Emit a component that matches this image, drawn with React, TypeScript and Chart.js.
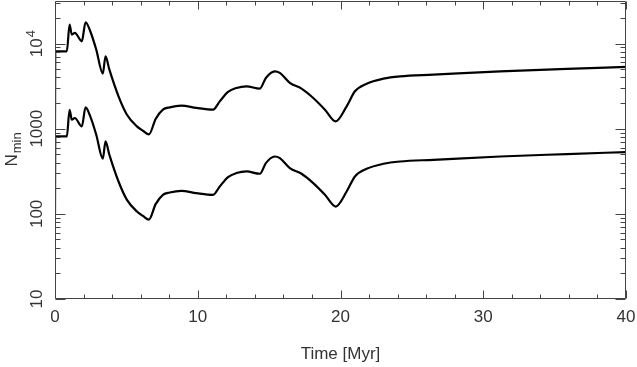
import React, { useEffect, useRef } from "react";
import { Chart, registerables } from "chart.js";

Chart.register(...registerables);

// Time in Myr
const times = [0, 0.02, 0.83, 1.02, 1.18, 1.39, 1.88, 2.14, 2.47, 2.89, 3.35, 3.54, 3.8, 4.45, 5.04, 5.74, 6.16, 6.58, 7.05, 7.56, 8.03, 8.85, 9.9, 11.07, 11.54, 12.12, 12.71, 13.41, 14.35, 14.77, 15.4, 15.75, 16.45, 17.27, 18.09, 18.91, 19.66, 20.43, 21.01, 21.83, 23.0, 24.17, 26.5, 31.18, 35.86, 40];

const upperNmin = [1000, 8110, 8110, 16700, 12750, 13360, 10640, 17800, 13960, 8500, 4440, 7100, 5000, 2400, 1460, 1064, 946, 857, 1300, 1675, 1782, 1866, 1754, 1675, 2094, 2704, 3013, 3150, 2957, 3946, 4720, 4518, 3452, 2957, 2296, 1675, 1219, 1830, 2750, 3381, 3873, 4121, 4315, 4720, 5035, 5320];

const lowerNmin = [100, 811, 811, 1670, 1275, 1336, 1064, 1780, 1396, 850, 444, 710, 500, 240, 146, 106.4, 94.6, 85.7, 130, 167.5, 178.2, 186.6, 175.4, 167.5, 209.4, 270.4, 301.3, 315, 295.7, 394.6, 472, 451.8, 345.2, 295.7, 229.6, 167.5, 121.9, 183, 275, 338.1, 387.3, 412.1, 431.5, 472, 503.5, 532];

const xMajorTicks = [0, 10, 20, 30, 40];
const xMinorTicks = [2, 4, 6, 8, 12, 14, 16, 18, 22, 24, 26, 28, 32, 34, 36, 38];
const yMajorTicks = [10, 100, 1000, 10000];
const yTickLabels = [["10", ""], ["100", ""], ["1000", ""], ["10", "4"]];
const yMinorTicks = [20, 30, 40, 50, 60, 70, 80, 90, 200, 300, 400, 500, 600, 700, 800, 900, 2000, 3000, 4000, 5000, 6000, 7000, 8000, 9000, 20000, 30000];

const FONT = '"Liberation Sans", "DejaVu Sans", sans-serif';
const TEXT_COLOR = "#333";

const framePlugin = {
  id: "frameTicks",
  afterDraw(chart: any) {
    const ctx = chart.ctx as CanvasRenderingContext2D;
    const { left, right, top, bottom } = chart.chartArea;
    const xs = chart.scales.x;
    const ys = chart.scales.y;
    const L = Math.round(left) + 0.5;
    const R = Math.round(right) - 0.5;
    const T = Math.round(top) + 0.5;
    const B = Math.round(bottom) - 0.5;
    ctx.save();
    ctx.strokeStyle = "#444";
    ctx.lineWidth = 1;
    ctx.beginPath();
    ctx.rect(L, T, R - L, B - T);
    ctx.stroke();

    const seg = (x1: number, y1: number, x2: number, y2: number) => {
      ctx.moveTo(x1, y1);
      ctx.lineTo(x2, y2);
    };
    ctx.beginPath();
    const xMaj = 8, xMin = 4, yMaj = 10, yMin = 5;
    xMajorTicks.forEach((v) => {
      const p = Math.round(xs.getPixelForValue(v)) + 0.5;
      seg(p, B, p, B - xMaj);
      seg(p, T, p, T + xMaj);
    });
    xMinorTicks.forEach((v) => {
      const p = Math.round(xs.getPixelForValue(v)) + 0.5;
      seg(p, B, p, B - xMin);
      seg(p, T, p, T + xMin);
    });
    yMajorTicks.forEach((v) => {
      const p = Math.round(ys.getPixelForValue(v)) + 0.5;
      seg(L, p, L + yMaj, p);
      seg(R, p, R - yMaj, p);
    });
    yMinorTicks.forEach((v) => {
      const p = Math.round(ys.getPixelForValue(v)) + 0.5;
      seg(L, p, L + yMin, p);
      seg(R, p, R - yMin, p);
    });
    ctx.stroke();

    // x tick labels
    ctx.fillStyle = TEXT_COLOR;
    ctx.font = `17px ${FONT}`;
    ctx.textAlign = "center";
    ctx.textBaseline = "middle";
    xMajorTicks.forEach((v) => {
      ctx.fillText(String(v), xs.getPixelForValue(v), bottom + 18);
    });
    // x title
    ctx.font = `17px ${FONT}`;
    ctx.fillText("Time [Myr]", (left + right) / 2, 354);

    // y tick labels (rotated)
    yMajorTicks.forEach((v, i) => {
      const [base, sup] = yTickLabels[i];
      const p = ys.getPixelForValue(v);
      ctx.save();
      ctx.translate(37, p);
      ctx.rotate(-Math.PI / 2);
      ctx.textBaseline = "middle";
      ctx.textAlign = "left";
      ctx.font = `17px ${FONT}`;
      const w1 = ctx.measureText(base).width;
      ctx.font = `13px ${FONT}`;
      const w2 = sup ? ctx.measureText(sup).width + 1 : 0;
      const start = -(w1 + w2) / 2;
      ctx.font = `17px ${FONT}`;
      ctx.fillText(base, start, 0);
      if (sup) {
        ctx.font = `13px ${FONT}`;
        ctx.fillText(sup, start + w1 + 1, -6);
      }
      ctx.restore();
    });

    // y title N_min
    ctx.save();
    ctx.translate(12, 150);
    ctx.rotate(-Math.PI / 2);
    ctx.textBaseline = "middle";
    ctx.textAlign = "left";
    ctx.font = `17px ${FONT}`;
    const wN = ctx.measureText("N").width;
    ctx.font = `13px ${FONT}`;
    const wm = ctx.measureText("min").width;
    const s = -(wN + wm) / 2;
    ctx.font = `17px ${FONT}`;
    ctx.fillText("N", s, 0);
    ctx.font = `13px ${FONT}`;
    ctx.fillText("min", s + wN + 1, 5);
    ctx.restore();
    ctx.restore();
  },
};

export default function App() {
  const ref = useRef<HTMLCanvasElement | null>(null);
  useEffect(() => {
    document.body.style.margin = "0";
    const canvas = ref.current!;
    const mk = (arr: number[]) => times.map((t, i) => ({ x: t, y: arr[i] }));
    const chart = new Chart(canvas, {
      type: "line",
      data: {
        datasets: [
          {
            label: "upper",
            data: mk(upperNmin),
            borderColor: "#000",
            borderWidth: 2.2,
            pointRadius: 0,
            cubicInterpolationMode: "monotone",
          },
          {
            label: "lower",
            data: mk(lowerNmin),
            borderColor: "#000",
            borderWidth: 2.2,
            pointRadius: 0,
            cubicInterpolationMode: "monotone",
          },
        ],
      },
      options: {
        animation: false,
        responsive: false,
        devicePixelRatio: 1,
        layout: { padding: { top: 1, right: 11, left: 0, bottom: 0 } },
        plugins: { legend: { display: false }, tooltip: { enabled: false } },
        scales: {
          x: {
            type: "linear",
            min: 0,
            max: 40,
            grid: { display: false },
            border: { display: false },
            ticks: { display: false },
            afterFit: (s: any) => {
              s.height = 68;
            },
          },
          y: {
            type: "logarithmic",
            min: 10,
            max: 31623,
            grid: { display: false },
            border: { display: false },
            ticks: { display: false },
            afterFit: (s: any) => {
              s.width = 55;
            },
          },
        },
      },
      plugins: [framePlugin],
    } as any);
    return () => chart.destroy();
  }, []);
  return (
    <div style={{ width: 637, height: 367, background: "#fff" }}>
      <canvas ref={ref} width={637} height={367} style={{ display: "block" }} />
    </div>
  );
}
